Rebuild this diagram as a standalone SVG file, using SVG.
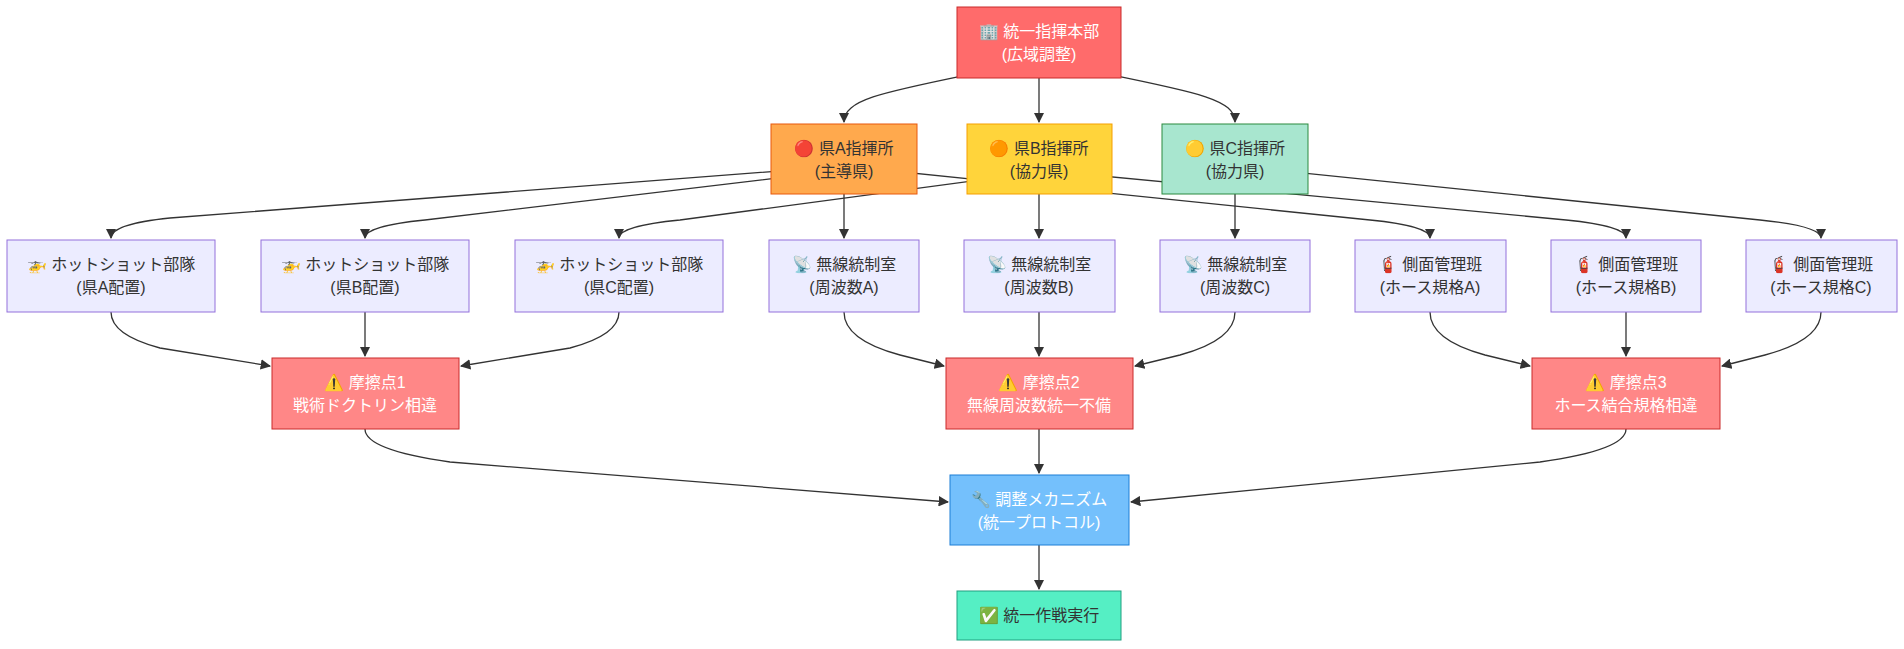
<svg xmlns="http://www.w3.org/2000/svg" width="1904" height="649" viewBox="0 0 1904 649">
<style>
text{font-family:"Liberation Sans","Noto Sans CJK JP",sans-serif;font-size:16px;text-anchor:middle;fill:#333}
.w text{fill:#fff}
.e path{fill:none;stroke:#333;stroke-width:1.3;marker-end:url(#a)}
.n{fill:#ECECFF;stroke:#9370DB;stroke-width:1}
</style>
<defs><marker id="a" viewBox="0 0 10 10" refX="9" refY="5" markerWidth="8" markerHeight="8" orient="auto"><path d="M0,0L10,5L0,10z" fill="#333"/></marker></defs>
<g class="e">
<path d="M1039,60 C900,90 844,95 844,122"/>
<path d="M1039,78 L1039,122"/>
<path d="M1039,60 C1180,90 1235,95 1235,122"/>
<path d="M844,166 L170,218 Q111,224 111,238"/>
<path d="M844,170 L425,220 Q365,226 365,238"/>
<path d="M1039,172 L680,220 Q619,226 619,238"/>
<path d="M844,194 L844,238"/>
<path d="M1039,194 L1039,238"/>
<path d="M1235,194 L1235,238"/>
<path d="M844,166 L1370,220 Q1430,226 1430,238"/>
<path d="M1039,170 L1566,220 Q1626,226 1626,238"/>
<path d="M1235,166 L1760,220 Q1821,226 1821,238"/>
<path d="M111,312 Q111,335 160,348 L270,366"/>
<path d="M365,312 L365,356"/>
<path d="M619,312 Q619,335 570,348 L461,366"/>
<path d="M844,312 Q844,340 900,355 L944,366"/>
<path d="M1039,312 L1039,356"/>
<path d="M1235,312 Q1235,340 1180,355 L1135,366"/>
<path d="M1430,312 Q1430,340 1485,355 L1530,366"/>
<path d="M1626,312 L1626,356"/>
<path d="M1821,312 Q1821,340 1765,355 L1722,366"/>
<path d="M365,429 Q365,450 450,462 L948,502"/>
<path d="M1039,429 L1039,473"/>
<path d="M1626,429 Q1626,450 1540,462 L1131,502"/>
<path d="M1039,545 L1039,589"/>
</g>
<g id="hq" class="w"><rect x="957" y="7" width="164" height="71" fill="#ff6b6b" stroke="#c92a2a"/><text x="1039" y="37">🏢 統一指揮本部</text><text x="1039" y="60">(広域調整)</text></g>
<g id="kenA"><rect x="771" y="124" width="146" height="70" fill="#ffa94d" stroke="#e8590c"/><text x="844" y="154">🔴 県A指揮所</text><text x="844" y="177">(主導県)</text></g>
<g id="kenB"><rect x="967" y="124" width="145" height="70" fill="#ffd43b" stroke="#f59f00"/><text x="1039" y="154">🟠 県B指揮所</text><text x="1039" y="177">(協力県)</text></g>
<g id="kenC"><rect x="1162" y="124" width="146" height="70" fill="#a8e6cf" stroke="#2b8a3e"/><text x="1235" y="154">🟡 県C指揮所</text><text x="1235" y="177">(協力県)</text></g>
<g id="hsA"><rect class="n" x="7" y="240" width="208" height="72"/><text x="111" y="270">🚁 ホットショット部隊</text><text x="111" y="293">(県A配置)</text></g>
<g id="hsB"><rect class="n" x="261" y="240" width="208" height="72"/><text x="365" y="270">🚁 ホットショット部隊</text><text x="365" y="293">(県B配置)</text></g>
<g id="hsC"><rect class="n" x="515" y="240" width="208" height="72"/><text x="619" y="270">🚁 ホットショット部隊</text><text x="619" y="293">(県C配置)</text></g>
<g id="rA"><rect class="n" x="769" y="240" width="150" height="72"/><text x="844" y="270">📡 無線統制室</text><text x="844" y="293">(周波数A)</text></g>
<g id="rB"><rect class="n" x="964" y="240" width="151" height="72"/><text x="1039" y="270">📡 無線統制室</text><text x="1039" y="293">(周波数B)</text></g>
<g id="rC"><rect class="n" x="1160" y="240" width="150" height="72"/><text x="1235" y="270">📡 無線統制室</text><text x="1235" y="293">(周波数C)</text></g>
<g id="sA"><rect class="n" x="1355" y="240" width="151" height="72"/><text x="1430" y="270">🧯 側面管理班</text><text x="1430" y="293">(ホース規格A)</text></g>
<g id="sB"><rect class="n" x="1551" y="240" width="150" height="72"/><text x="1626" y="270">🧯 側面管理班</text><text x="1626" y="293">(ホース規格B)</text></g>
<g id="sC"><rect class="n" x="1746" y="240" width="151" height="72"/><text x="1821" y="270">🧯 側面管理班</text><text x="1821" y="293">(ホース規格C)</text></g>
<g id="f1" class="w"><rect x="272" y="358" width="187" height="71" fill="#ff8787" stroke="#c92a2a"/><text x="365" y="388">⚠️ 摩擦点1</text><text x="365" y="411">戦術ドクトリン相違</text></g>
<g id="f2" class="w"><rect x="946" y="358" width="187" height="71" fill="#ff8787" stroke="#c92a2a"/><text x="1039" y="388">⚠️ 摩擦点2</text><text x="1039" y="411">無線周波数統一不備</text></g>
<g id="f3" class="w"><rect x="1532" y="358" width="188" height="71" fill="#ff8787" stroke="#c92a2a"/><text x="1626" y="388">⚠️ 摩擦点3</text><text x="1626" y="411">ホース結合規格相違</text></g>
<g id="mech" class="w"><rect x="950" y="475" width="179" height="70" fill="#74c0fc" stroke="#1c7ed6"/><text x="1039" y="505">🔧 調整メカニズム</text><text x="1039" y="528">(統一プロトコル)</text></g>
<g id="exec"><rect x="957" y="591" width="164" height="49" fill="#55efc4" stroke="#20a080"/><text x="1039" y="621">✅ 統一作戦実行</text></g>
</svg>
